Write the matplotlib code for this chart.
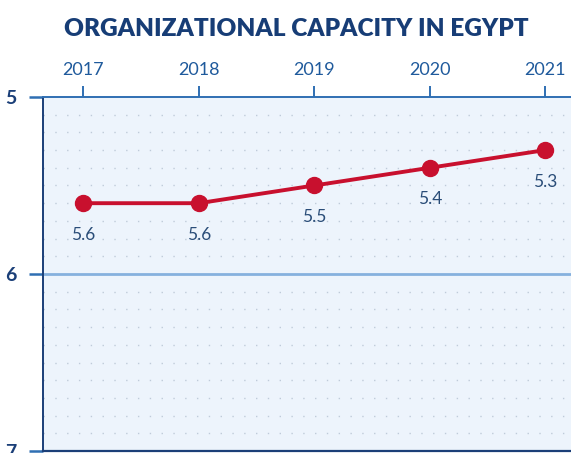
import matplotlib.pyplot as plt
from matplotlib.ticker import MultipleLocator

years = ["2017", "2018", "2019", "2020", "2021"]
scores = [5.6, 5.6, 5.5, 5.4, 5.3]
y_ticks = [5, 6, 7]

navy = "#1b3f78"
blue = "#2f6fb3"
red = "#c8102e"

fig = plt.figure(figsize=(5.71, 4.53), dpi=100)
ax = fig.add_axes([0.0753, 0.0044, 0.93, 0.7815])
ax.set_facecolor("#edf4fc")

x = list(range(len(years)))
ax.plot(x, scores, color=red, linewidth=2.8, marker="o", markersize=11.5, zorder=4)
for xi, v in zip(x, scores):
    ax.annotate(f"{v}", (xi, v), xytext=(0, -17), textcoords="offset points",
                ha="center", va="top", fontsize=12.5, color="#2a4d78", family="Lato")

# scale runs downward: 5 at top, 7 at bottom
ax.set_ylim(7, 5)
ax.set_xlim(-0.35, 4.25)
ax.set_yticks(y_ticks)
ax.set_yticklabels([str(t) for t in y_ticks], fontsize=14, fontweight="bold",
                   color=navy, family="Lato")
ax.yaxis.set_minor_locator(MultipleLocator(0.1))
ax.grid(which="minor", axis="y", color="#bfcbd9", linewidth=1,
        linestyle=(0, (1, 7.5)))
ax.axhline(6, color="#86b1de", linewidth=2, zorder=2)

ax.xaxis.tick_top()
ax.set_xticks(x)
ax.set_xticklabels(years, fontsize=13, color="#1f5a9c", family="Lato")
ax.tick_params(axis="x", direction="out", length=8, width=1.4, color=blue, pad=6)
ax.tick_params(axis="y", which="major", direction="out", length=10, width=1.8,
               color=blue, pad=9)
ax.tick_params(axis="y", which="minor", length=0)

ax.spines["right"].set_visible(False)
ax.spines["top"].set_color(blue)
ax.spines["top"].set_linewidth(1.4)
ax.spines["left"].set_color(navy)
ax.spines["left"].set_linewidth(1.4)
ax.spines["bottom"].set_color(navy)
ax.spines["bottom"].set_linewidth(1.6)

fig.text(0.519, 0.937, "ORGANIZATIONAL CAPACITY IN EGYPT", ha="center", va="center",
         fontsize=17.6, fontweight="heavy", color="#173d76", family="Lato")

fig.savefig("out.png", dpi=100)
